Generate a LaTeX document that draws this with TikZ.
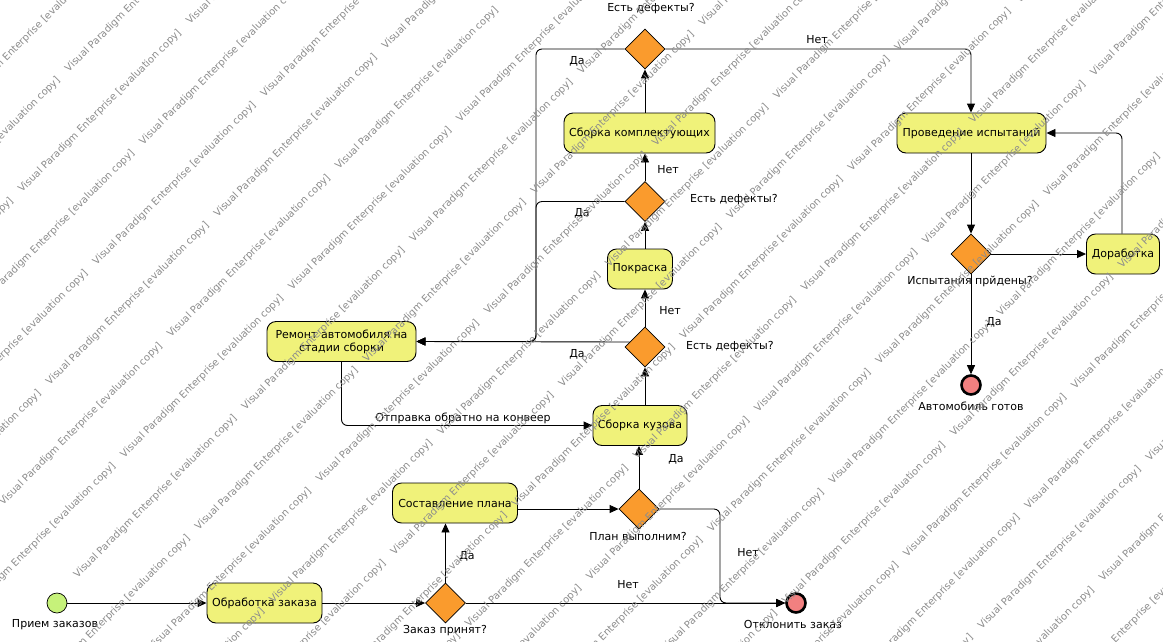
\documentclass[tikz,border=0pt]{standalone}
\usepackage{fontspec}
\setmainfont{DejaVu Sans}
\usetikzlibrary{shapes.geometric,arrows.meta}
\definecolor{actfill}{RGB}{240,242,122}
\definecolor{decfill}{RGB}{250,155,45}
\definecolor{endfill}{RGB}{242,128,128}
\definecolor{startfill}{RGB}{198,242,122}
\definecolor{wmgray}{RGB}{140,140,140}
\begin{document}
\begin{tikzpicture}[x=1pt,y=-1pt,
  every node/.style={font=\fontsize{11}{13}\selectfont},
  act/.style={draw, fill=actfill, rounded corners=9pt, line width=0.9pt, inner sep=0pt, align=center, minimum height=40pt},
  dec/.style={draw, fill=decfill, diamond, minimum width=40pt, minimum height=40pt, inner sep=0pt, line width=0.8pt},
  fin/.style={circle, draw, fill=endfill, line width=2.6pt, minimum size=19pt, inner sep=0pt},
  ini/.style={circle, draw, fill=startfill, line width=0.7pt, minimum size=20pt, inner sep=0pt},
  flow/.style={draw, line width=0.9pt, -{Triangle[length=9pt,width=8pt]}, rounded corners=6pt},
  lbl/.style={inner sep=0pt},
  wmark/.style={font=\fontsize{10}{12}\selectfont, text=wmgray, rotate=45, anchor=base west, inner sep=0pt}
]
\fill[white] (0,0) rectangle (1163,641);
\useasboundingbox (0,0) rectangle (1163,641);

% routing columns
\coordinate (rx) at (536,0);
\coordinate (tx) at (971,0);
\coordinate (fx) at (1122,0);
\coordinate (nx) at (720,0);

% activities, decisions, start and end points
\node[ini] (start) at (57,603) {};
\node[lbl] (lstart) at (55,625) {Прием заказов};
\node[act, minimum width=115pt] (proc) at (264.5,603) {Обработка заказа};
\node[dec] (accept) at (445.5,603) {};
\node[lbl] (laccept) at (445,631) {Заказ принят?};
\node[act, minimum width=125pt] (plan) at (455,503) {Составление плана};
\node[dec] (feas) at (639,509) {};
\node[lbl] (lfeas) at (638,536) {План выполним?};
\node[act, minimum width=94pt] (body) at (640,425.5) {Сборка кузова};
\node[dec] (d1) at (645,347) {};
\node[lbl, anchor=west] (ld1) at (686,347) {Есть дефекты?};
\node[act, minimum width=65pt] (paint) at (640,269) {Покраска};
\node[dec] (d2) at (645,201.5) {};
\node[lbl, anchor=west] (ld2) at (690,200) {Есть дефекты?};
\node[act, minimum width=151pt] (comp) at (639.5,133) {Сборка комплектующих};
\node[dec] (d3) at (645,49) {};
\node[lbl] (ld3) at (651,9) {Есть дефекты?};
\node[act, minimum width=149pt] (test) at (971.5,133) {Проведение испытаний};
\node[dec] (dt) at (971,254) {};
\node[lbl] (ldt) at (970,281) {Испытания прйдены?};
\node[act, minimum width=73pt] (fix) at (1123,254) {Доработка};
\node[fin] (ready) at (971,385) {};
\node[lbl] (lready) at (971,406) {Автомобиль готов};
\node[act, minimum width=149pt] (repair) at (341.5,341.5) {Ремонт автомобиля на\\стадии сборки};
\node[fin] (reject) at (796,603) {};
\node[lbl] (lreject) at (793,624) {Отклонить заказ};

% control flows
\draw[flow] (start) -- (proc);
\draw[flow] (proc) -- (accept);
\draw[flow] (accept.north) -- (accept.north |- plan.south);
\draw[flow] (accept.east) -- (reject.west);
\draw[flow] (plan.east |- feas.west) -- (feas.west);
\draw[flow] (feas.north) -- (feas.north |- body.south);
\draw[flow] (feas.east) -| (nx |- reject.west) -- (reject.west);
\draw[flow] (body.north -| d1.south) -- (d1.south);
\draw[flow] (d1.north) -- (d1.north |- paint.south);
\draw[flow] ([xshift=5pt,yshift=5pt]d1.west) -- (repair.east);
\draw[flow] (paint.north -| d2.south) -- (d2.south);
\draw[flow] (d2.north) -- (d2.north |- comp.south);
\draw[flow] (d2.west) -| (rx |- repair.east) -- (repair.east);
\draw[flow] (comp.north -| d3.south) -- (d3.south);
\draw[flow] (d3.west) -| (rx |- repair.east) -- (repair.east);
\draw[flow] (d3.east) -| (tx |- test.north);
\draw[flow] (test.south -| dt.north) -- (dt.north);
\draw[flow] (dt.east) -- (fix.west |- dt.east);
\draw[flow] (fix.north -| fx) |- (test.east);
\draw[flow] (dt.south) -- (ready.north);
\draw[flow] (repair.south) |- (body.west);

% guard labels
\node[lbl] (g1) at (467,556) {Да};
\node[lbl] (g2) at (628,585) {Нет};
\node[lbl] (g3) at (676,459) {Да};
\node[lbl] (g4) at (748,553) {Нет};
\node[lbl] (g5) at (670,311) {Нет};
\node[lbl] (g6) at (577,354) {Да};
\node[lbl] (g7) at (668,170) {Нет};
\node[lbl] (g8) at (582,213) {Да};
\node[lbl] (g9) at (577,61) {Да};
\node[lbl] (g10) at (817,40) {Нет};
\node[lbl] (g11) at (994,322) {Да};
\node[lbl] (g12) at (463,418) {Отправка обратно на конвеер};

% evaluation watermark: diagonal rows, strings start from the lower-left band
\begin{scope}
\clip (0,0) rectangle (1163,641);
\foreach \j in {-3,...,22}{
  \foreach \i in {-17,...,9}{
    \pgfmathsetmacro{\uu}{-171+336*\i+169*\j}
    \ifdim\uu pt>-760pt
      \node[wmark] (wm-\i-\j) at ({22+168*\i+121.25*\j},{193-168*\i-47.75*\j}) {Visual Paradigm Enterprise [evaluation copy]};
    \fi
  }
}
\end{scope}
\end{tikzpicture}
\end{document}
